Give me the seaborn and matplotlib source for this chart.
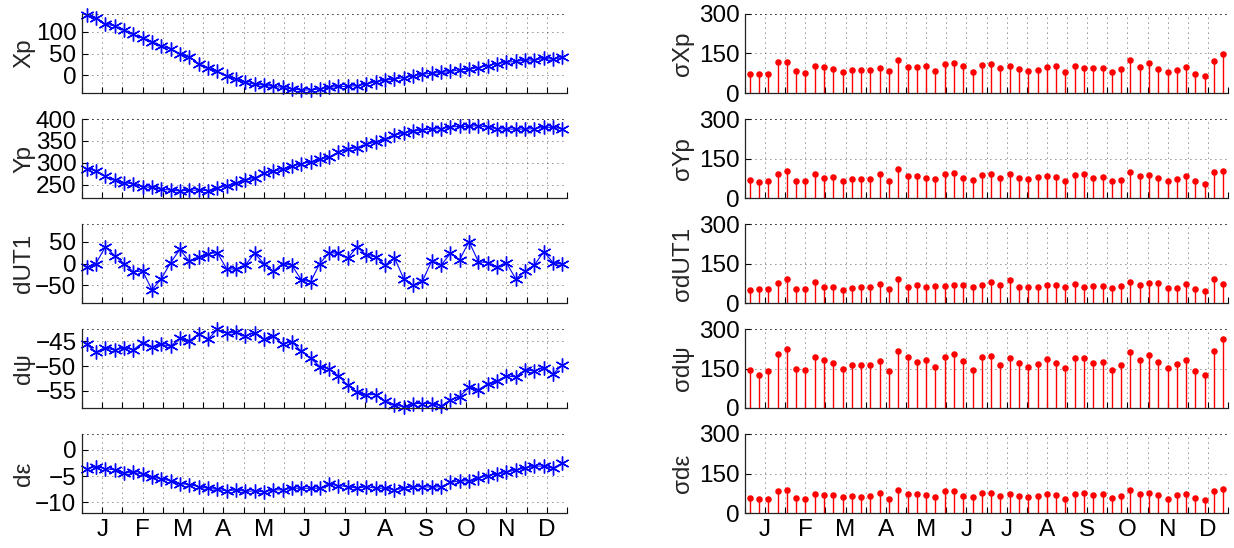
import numpy as np
import matplotlib
matplotlib.use("Agg")
import matplotlib.pyplot as plt
import seaborn as sns

sns.set_style("white")
plt.rcParams["font.family"] = ["Liberation Sans", "DejaVu Sans"]

months = ["J", "F", "M", "A", "M", "J", "J", "A", "S", "O", "N", "D"]

xp = [137, 130, 117, 113, 103, 94, 85, 77, 67, 60, 50, 43, 27, 16, 9, -1, -8, -16, -20, -22,
      -25, -27, -31, -33, -33, -31, -27, -25, -25, -23, -20, -14, -11, -8, -5, -1, 3, 5, 7, 9,
      13, 14, 18, 22, 27, 30, 32, 35, 35, 39, 37, 41]
yp = [287, 282, 269, 260, 255, 252, 246, 244, 240, 238, 236, 238, 238, 237, 242, 248, 254, 260, 265, 277,
      281, 285, 292, 298, 302, 308, 313, 325, 331, 335, 342, 348, 354, 363, 368, 372, 375, 377, 378, 382,
      383, 383, 385, 381, 378, 377, 377, 377, 378, 381, 381, 378]
dut1 = [-9, 0, 38, 18, 0, -19, -17, -60, -35, 2, 32, 5, 15, 22, 25, -12, -13, -4, 23, 0,
        -18, 0, -4, -37, -42, 0, 25, 23, 12, 38, 19, 15, -4, 13, -35, -50, -40, 6, -4, 23,
        9, 50, 4, 2, -8, 2, -35, -18, -4, 27, 2, -2]
dpsi = [-45.6, -47.2, -46.3, -46.8, -46.3, -46.7, -45.3, -46.1, -45.6, -46.0, -44.4, -44.9, -43.5, -44.6,
        -42.6, -43.3, -43.2, -43.9, -43.3, -44.6, -44.0, -45.5, -45.1, -47.0, -48.4, -50.1, -50.6, -52.0,
        -53.9, -55.3, -55.8, -55.8, -57.1, -57.8, -58.3, -57.6, -57.6, -57.6, -58.1, -56.9, -56.2, -54.3,
        -54.8, -53.6, -53.0, -52.0, -52.2, -50.8, -51.0, -50.3, -51.6, -49.8]
deps = [-3.6, -3.2, -3.6, -3.8, -4.4, -4.3, -4.6, -5.2, -5.5, -5.9, -6.4, -6.6, -7.0, -7.3, -7.5, -7.8,
        -7.6, -7.9, -7.8, -8.0, -7.6, -7.6, -7.3, -7.3, -7.3, -7.3, -6.5, -6.8, -7.0, -7.3, -7.0, -7.3,
        -7.3, -7.6, -7.3, -7.0, -7.0, -7.1, -7.0, -6.2, -5.9, -5.9, -5.4, -4.9, -4.6, -4.3, -3.8, -3.5,
        -3.1, -3.1, -3.5, -2.5]

s_xp = [74, 73, 74, 118, 118, 84, 77, 102, 98, 93, 79, 89, 87, 89, 96, 82, 125, 100, 98, 102,
        84, 109, 114, 102, 79, 107, 109, 96, 101, 93, 83, 87, 100, 102, 79, 102, 96, 96, 95, 79,
        92, 124, 98, 114, 93, 79, 87, 97, 72, 66, 121, 147]
s_yp = [68, 60, 63, 91, 102, 66, 66, 91, 77, 78, 66, 72, 73, 73, 91, 63, 109, 83, 82, 77,
        73, 91, 95, 77, 69, 86, 91, 77, 92, 75, 72, 79, 82, 79, 66, 87, 92, 77, 79, 66,
        70, 100, 82, 88, 75, 65, 74, 83, 65, 55, 97, 101]
s_dut1 = [51, 54, 53, 76, 90, 54, 54, 80, 62, 61, 51, 57, 59, 59, 73, 53, 90, 62, 67, 62,
          66, 66, 67, 67, 62, 67, 78, 67, 87, 62, 62, 61, 70, 67, 62, 71, 62, 66, 65, 56,
          65, 78, 68, 76, 75, 56, 56, 72, 52, 44, 91, 71]
s_dpsi = [146, 124, 140, 205, 223, 149, 146, 194, 181, 171, 147, 164, 163, 165, 178, 141, 217, 194, 176, 182,
          156, 194, 206, 178, 144, 192, 199, 164, 191, 169, 155, 168, 185, 171, 151, 188, 190, 171, 176, 145,
          162, 212, 181, 200, 176, 151, 168, 182, 142, 126, 215, 263]
s_deps = [58, 52, 52, 83, 87, 58, 55, 71, 68, 68, 59, 63, 62, 64, 76, 55, 88, 73, 73, 69,
          61, 83, 83, 66, 59, 76, 77, 66, 73, 66, 61, 66, 72, 68, 55, 74, 76, 68, 71, 58,
          64, 87, 72, 77, 67, 54, 67, 72, 57, 48, 83, 93]

left_series = [xp, yp, dut1, dpsi, deps]
left_labels = ["Xp", "Yp", "dUT1", "dψ", "dε"]
left_ylims = [(-40, 140), (220, 400), (-90, 90), (-58.5, -42.5), (-12, 3)]
left_yticks = [[0, 50, 100], [250, 300, 350, 400], [-50, 0, 50], [-55, -50, -45], [-10, -5, 0]]

right_series = [s_xp, s_yp, s_dut1, s_dpsi, s_deps]
right_labels = ["σXp", "σYp", "σdUT1", "σdψ", "σdε"]

W, H = 1234, 548
FS = 17.5
fig = plt.figure(figsize=(W / 100, H / 100), dpi=100)

n = len(xp)
xw = (np.arange(n) + 0.5) * 12 / n
xticks = np.arange(0, 12.01, 0.5)
xticklabels = [months[int(t)] if (i % 2 == 1) else "" for i, t in enumerate(xticks)]

rows = [(14, 93), (119, 198), (224, 303), (329, 408), (434, 513)]
cols = [(82, 567), (745, 1228)]

def style_axis(ax, last):
    ax.set_xlim(0, 12)
    ax.set_xticks(xticks)
    if last:
        ax.set_xticklabels(xticklabels)
    else:
        ax.set_xticklabels([])
    ax.spines["right"].set_visible(False)
    ax.spines["top"].set_linestyle((0, (1, 5)))
    ax.spines["top"].set_linewidth(0.6)
    for s in ("left", "bottom"):
        ax.spines[s].set_color("#222222")
        ax.spines[s].set_linewidth(0.9)
    ax.grid(True, color="#222222", linestyle=(0, (1, 5)), linewidth=0.6)
    ax.set_axisbelow(True)
    ax.tick_params(direction="in", length=4, width=0.8, top=False, right=False,
                   labelsize=FS, pad=4, colors="black", left=True, bottom=True)
    ax.set_xlabel("")

for r in range(5):
    t, b = rows[r]
    # left column
    l0, l1 = cols[0]
    ax = fig.add_axes([l0 / W, 1 - b / H, (l1 - l0) / W, (b - t) / H])
    sns.lineplot(x=xw, y=left_series[r], ax=ax, color="blue", linewidth=0.8,
                 marker=(6, 2, 0), markersize=10, markeredgecolor="blue",
                 markeredgewidth=1.0, sort=False, clip_on=False)
    ax.set_ylim(*left_ylims[r])
    ax.set_yticks(left_yticks[r])
    style_axis(ax, r == 4)
    ax.set_ylabel(left_labels[r], fontsize=FS)
    ax.yaxis.set_label_coords(-0.097, 0.5)

    # right column
    r0, r1 = cols[1]
    ax2 = fig.add_axes([r0 / W, 1 - b / H, (r1 - r0) / W, (b - t) / H])
    ax2.vlines(xw, 0, right_series[r], color="red", linewidth=1.0)
    sns.scatterplot(x=xw, y=right_series[r], ax=ax2, color="red", s=22,
                    edgecolor="red", linewidth=0, zorder=3)
    ax2.set_ylim(0, 300)
    ax2.set_yticks([0, 150, 300])
    style_axis(ax2, r == 4)
    ax2.set_ylabel(right_labels[r], fontsize=FS)
    ax2.yaxis.set_label_coords(-0.105, 0.5)

fig.savefig("out.png", dpi=100)
